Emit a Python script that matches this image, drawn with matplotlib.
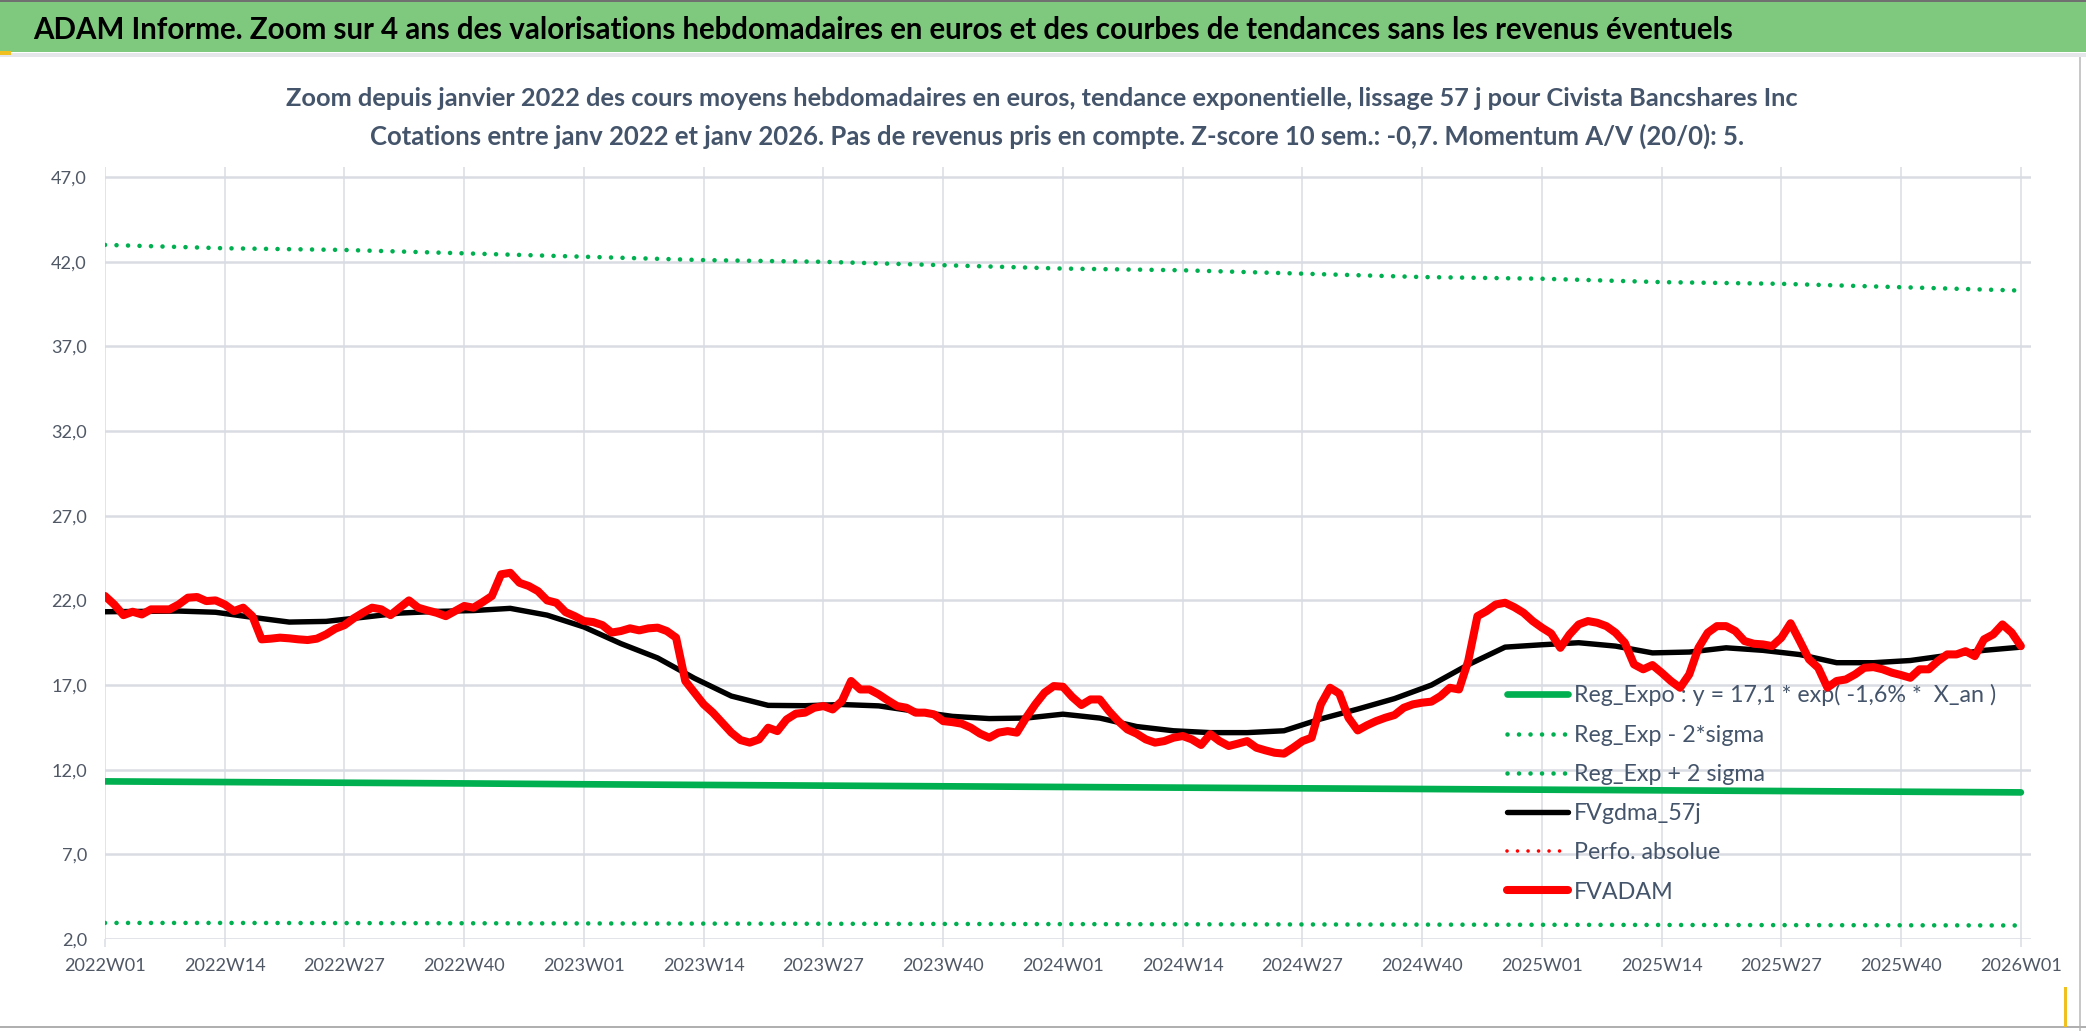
import numpy as np
import matplotlib
matplotlib.use("Agg")
import matplotlib.pyplot as plt
from matplotlib.patches import Rectangle
from matplotlib.ticker import FuncFormatter

plt.rcParams['font.family'] = ['Lato', 'DejaVu Sans']

# ---- data ----
tick_labels = ["2022W01", "2022W14", "2022W27", "2022W40",
               "2023W01", "2023W14", "2023W27", "2023W40",
               "2024W01", "2024W14", "2024W27", "2024W40",
               "2025W01", "2025W14", "2025W27", "2025W40", "2026W01"]

# weekly FVADAM (2022W01 .. 2026W01)
fvadam = [22.26, 21.76, 21.13, 21.33, 21.17, 21.47, 21.47, 21.47, 21.76, 22.16,
          22.20, 21.96, 22.00, 21.76, 21.37, 21.57, 21.07, 19.70, 19.74, 19.80,
          19.76, 19.70, 19.66, 19.74, 19.99, 20.33, 20.54, 20.94, 21.27, 21.57,
          21.47, 21.13, 21.57, 22.00, 21.57, 21.41, 21.27, 21.07, 21.37, 21.67,
          21.57, 21.90, 22.26, 23.54, 23.63, 23.04, 22.85, 22.55, 22.00, 21.86,
          21.31, 21.07, 20.78, 20.72, 20.54, 20.10, 20.19, 20.35, 20.23, 20.35,
          20.39, 20.19, 19.80, 17.24, 16.55, 15.86, 15.37, 14.78, 14.19, 13.75,
          13.60, 13.79, 14.48, 14.28, 14.97, 15.31, 15.37, 15.66, 15.76, 15.56,
          16.05, 17.24, 16.74, 16.74, 16.45, 16.09, 15.76, 15.66, 15.37, 15.37,
          15.27, 14.87, 14.81, 14.72, 14.48, 14.13, 13.89, 14.19, 14.28, 14.19,
          15.07, 15.86, 16.55, 16.94, 16.90, 16.30, 15.82, 16.15, 16.15, 15.46,
          14.87, 14.38, 14.13, 13.79, 13.60, 13.69, 13.89, 13.99, 13.79, 13.46,
          14.10, 13.69, 13.40, 13.54, 13.69, 13.30, 13.14, 13.00, 12.95, 13.30,
          13.69, 13.89, 15.86, 16.84, 16.50, 15.07, 14.32, 14.62, 14.87, 15.07,
          15.23, 15.66, 15.86, 15.96, 16.02, 16.35, 16.84, 16.74, 18.42, 21.07,
          21.37, 21.76, 21.86, 21.60, 21.27, 20.78, 20.39, 20.05, 19.20, 19.99,
          20.58, 20.78, 20.68, 20.48, 20.09, 19.50, 18.22, 17.93, 18.18, 17.73,
          17.24, 16.84, 17.63, 19.20, 20.09, 20.48, 20.48, 20.19, 19.60, 19.44,
          19.40, 19.30, 19.80, 20.65, 19.60, 18.52, 18.02, 16.85, 17.24, 17.33,
          17.63, 18.02, 18.06, 17.93, 17.73, 17.59, 17.43, 17.93, 17.93, 18.42,
          18.81, 18.81, 19.00, 18.71, 19.70, 19.99, 20.58, 20.10, 19.30]

# FVgdma_57j, read every 4 weeks
gdma_step = 4
fvgdma = [21.33, 21.35, 21.37, 21.30, 21.00, 20.72, 20.76, 21.00, 21.25, 21.35,
          21.40, 21.53, 21.13, 20.43, 19.45, 18.60, 17.40, 16.35, 15.80, 15.78,
          15.85, 15.77, 15.45, 15.15, 15.02, 15.05, 15.28, 15.05, 14.55, 14.30,
          14.19, 14.19, 14.30, 15.00, 15.58, 16.20, 17.00, 18.20, 19.24, 19.38,
          19.50, 19.30, 18.90, 18.95, 19.20, 19.05, 18.80, 18.32, 18.32, 18.45,
          18.75, 19.05, 19.24]

# regression lines, read at each labelled week
reg_expo = [11.31, 11.27, 11.23, 11.19, 11.14, 11.10, 11.06, 11.02, 10.98,
            10.94, 10.90, 10.86, 10.82, 10.78, 10.74, 10.70, 10.66]
reg_minus = [2.95, 2.95, 2.94, 2.93, 2.92, 2.91, 2.90, 2.89, 2.88,
             2.87, 2.86, 2.85, 2.84, 2.83, 2.82, 2.81, 2.80]
reg_plus = [43.0, 42.8, 42.7, 42.5, 42.3, 42.1, 42.0, 41.8, 41.6,
            41.5, 41.3, 41.1, 41.0, 40.8, 40.7, 40.5, 40.3]

y_ticks = [2, 7, 12, 17, 22, 27, 32, 37, 42, 47]

series_labels = ["Reg_Expo : y = 17,1 * exp( -1,6% *  X_an )", "Reg_Exp - 2*sigma",
                 "Reg_Exp + 2 sigma", "FVgdma_57j", "Perfo. absolue", "FVADAM"]

title = ("ADAM Informe. Zoom sur 4 ans des valorisations hebdomadaires en euros "
         "et des courbes de tendances sans les revenus éventuels")
subtitle1 = ("Zoom depuis janvier 2022 des cours moyens hebdomadaires en euros, "
             "tendance exponentielle, lissage 57 j pour Civista Bancshares Inc")
subtitle2 = ("Cotations entre janv 2022 et janv 2026. Pas de revenus pris en compte. "
             "Z-score 10 sem.: -0,7. Momentum A/V (20/0): 5.")

# ---- figure ----
W, H = 2086, 1031
fig = plt.figure(figsize=(W / 100, H / 100), dpi=100)
fig.patch.set_facecolor("white")
renderer = fig.canvas.get_renderer()


def fit_size(text, target_px, weight="normal", size=20.0):
    """font size (pt) giving the text the width it has in the reference"""
    t = fig.text(0, 0, text, fontsize=size, fontweight=weight)
    w = t.get_window_extent(renderer=renderer).width
    t.remove()
    return size * target_px / w


def band(x, y, w, h, color, z=1):
    fig.patches.append(Rectangle((x / W, 1 - (y + h) / H), w / W, h / H,
                                 transform=fig.transFigure, facecolor=color,
                                 edgecolor="none", zorder=z))


# header band and frame bits
band(0, 0, W, 52, "#7fc97f", 0)
band(0, 0, W, 2, "#707070")
band(0, 53, W, 4, "#e4e6ea")
band(0, 51, 11, 4, "#f0c020", 2)
band(2079, 57, 2, H - 57, "#c8c8c8")
band(0, H - 5, W, 2, "#b0b0b0")
band(2064, H - 44, 3, 40, "#f0c020", 2)

fig.text(33 / W, 1 - 30 / H, title, fontsize=fit_size(title, 1709, "bold"),
         fontweight="bold", color="black", ha="left", va="center")
fig.text(1042 / W, 1 - 99 / H, subtitle1, fontsize=fit_size(subtitle1, 1511, "bold"),
         fontweight="bold", color="#44546a", ha="center", va="center")
fig.text(1057 / W, 1 - 136 / H, subtitle2, fontsize=fit_size(subtitle2, 1372, "bold"),
         fontweight="bold", color="#44546a", ha="center", va="center")

tick_fs = fit_size(tick_labels[0], 82)
leg_fs = fit_size(series_labels[0], 422)

ax = fig.add_axes([105 / W, 1 - 939 / H, (2031 - 105) / W, (939 - 167) / H])
ax.set_facecolor("none")

weeks = np.arange(len(fvadam))
tick_pos = np.arange(0, len(fvadam), 13)
gdma_x = np.arange(0, len(fvadam), gdma_step)

grid_c = "#d9dce3"
for y in y_ticks:
    ax.axhline(y, color=grid_c, lw=1.8, zorder=0)
for x in tick_pos:
    ax.axvline(x, color=grid_c, lw=1.1, zorder=0)

green = "#00b050"
dot = (0, (0.01, 2.5))
ax.plot(tick_pos, reg_expo, color=green, lw=4.8, solid_capstyle="round", zorder=3,
        label=series_labels[0])
ax.plot(tick_pos, reg_minus, color=green, lw=3.3, linestyle=dot,
        dash_capstyle="round", zorder=3, label=series_labels[1])
ax.plot(tick_pos, reg_plus, color=green, lw=3.3, linestyle=dot,
        dash_capstyle="round", zorder=3, label=series_labels[2])
ax.plot(gdma_x, fvgdma, color="black", lw=3.9, solid_joinstyle="round",
        solid_capstyle="round", zorder=4, label=series_labels[3])
ax.plot([], [], color="red", lw=2.6, linestyle=(0, (0.01, 2.9)), dash_capstyle="round",
        label=series_labels[4])
ax.plot(weeks, fvadam, color="red", lw=5.8, solid_joinstyle="round",
        solid_capstyle="round", zorder=5, label=series_labels[5])

ax.set_xlim(0, 209.1)
ax.set_ylim(2, 47.6)
ax.set_xticks(tick_pos)
ax.set_xticklabels(tick_labels)
ax.set_yticks(y_ticks)
ax.yaxis.set_major_formatter(FuncFormatter(lambda v, p: f"{v:.1f}".replace(".", ",")))
for s in ax.spines.values():
    s.set_visible(False)
ax.tick_params(axis="x", length=6, width=1.1, color=grid_c, pad=8,
               labelsize=tick_fs, labelcolor="#505866")
ax.tick_params(axis="y", length=0, pad=13, labelsize=tick_fs, labelcolor="#505866")

leg_px = leg_fs * 100 / 72
leg = ax.legend(loc="upper left", bbox_to_anchor=(1507 / W, 1 - (696 - 0.5 * leg_px) / H),
                bbox_transform=fig.transFigure, frameon=False, fontsize=leg_fs,
                handlelength=61 / leg_px, handletextpad=6 / leg_px,
                labelspacing=40.3 / leg_px - 0.95,
                borderpad=0, borderaxespad=0, labelcolor="#44546a")
leg.set_zorder(2)

fig.savefig("out.png", dpi=100)
